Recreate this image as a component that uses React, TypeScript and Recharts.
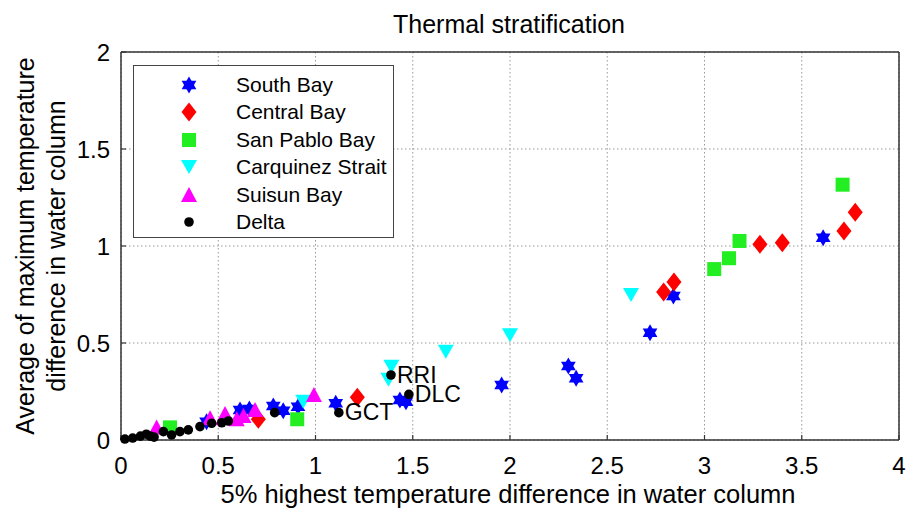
import { ScatterChart, Scatter, XAxis, YAxis, CartesianGrid, Legend } from 'recharts';

const FONT = '"Liberation Sans", Arial, Helvetica, sans-serif';

const xTicks = [0, 0.5, 1, 1.5, 2, 2.5, 3, 3.5, 4];
const yTicks = [0, 0.5, 1, 1.5, 2];

// South Bay
const southBayX = [0.44, 0.612, 0.66, 0.783, 0.834, 0.91, 1.104, 1.434, 1.465, 1.957, 2.3, 2.34, 2.72, 2.84, 3.61];
const southBayY = [0.094, 0.155, 0.16, 0.175, 0.151, 0.172, 0.189, 0.206, 0.197, 0.284, 0.381, 0.318, 0.553, 0.742, 1.043];

// Central Bay
const centralBayX = [0.706, 1.215, 2.79, 2.843, 3.285, 3.4, 3.717, 3.775];
const centralBayY = [0.107, 0.22, 0.763, 0.814, 1.009, 1.017, 1.077, 1.174];

// San Pablo Bay
const sanPabloX = [0.252, 0.906, 3.05, 3.126, 3.18, 3.71];
const sanPabloY = [0.065, 0.107, 0.881, 0.937, 1.026, 1.316];

// Carquinez Strait
const carquinezX = [0.937, 1.375, 1.39, 1.67, 2.0, 2.622];
const carquinezY = [0.197, 0.31, 0.378, 0.455, 0.54, 0.747];

// Suisun Bay
const suisunX = [0.183, 0.458, 0.535, 0.595, 0.63, 0.689, 0.992];
const suisunY = [0.065, 0.112, 0.134, 0.107, 0.124, 0.155, 0.232];

// Delta (three stations are labelled)
const deltaX = [0.02, 0.06, 0.1, 0.13, 0.15, 0.17, 0.218, 0.26, 0.303, 0.346, 0.406, 0.466, 0.518, 0.552, 0.79, 1.12, 1.388, 1.48];
const deltaY = [0.005, 0.01, 0.02, 0.03, 0.02, 0.015, 0.043, 0.026, 0.043, 0.052, 0.069, 0.086, 0.089, 0.098, 0.141, 0.141, 0.335, 0.235];
const deltaLabels = ['', '', '', '', '', '', '', '', '', '', '', '', '', '', '', 'GCT', 'RRI', 'DLC'];

type Kind = 'hexagram' | 'diamond' | 'square' | 'triangleDown' | 'triangleUp' | 'dot';

const toPoints = (xs: number[], ys: number[], labels?: string[]) =>
  xs.map((x, i) => ({ x, y: ys[i], site: labels ? labels[i] : '' }));

const series: { name: string; kind: Kind; color: string; data: { x: number; y: number; site: string }[] }[] = [
  { name: 'South Bay', kind: 'hexagram', color: '#0000ff', data: toPoints(southBayX, southBayY) },
  { name: 'Central Bay', kind: 'diamond', color: '#ff0000', data: toPoints(centralBayX, centralBayY) },
  { name: 'San Pablo Bay', kind: 'square', color: '#22ee22', data: toPoints(sanPabloX, sanPabloY) },
  { name: 'Carquinez Strait', kind: 'triangleDown', color: '#00ffff', data: toPoints(carquinezX, carquinezY) },
  { name: 'Suisun Bay', kind: 'triangleUp', color: '#ff00ff', data: toPoints(suisunX, suisunY) },
  { name: 'Delta', kind: 'dot', color: '#000000', data: toPoints(deltaX, deltaY, deltaLabels) },
];

function Marker({ kind, color, cx, cy }: { kind: Kind; color: string; cx: number; cy: number }) {
  switch (kind) {
    case 'hexagram': {
      const r = 8.5;
      const pt = (a: number) => `${cx + r * Math.cos((a * Math.PI) / 180)},${cy + r * Math.sin((a * Math.PI) / 180)}`;
      return (
        <g fill={color}>
          <polygon points={[-90, 30, 150].map(pt).join(' ')} />
          <polygon points={[90, 210, 330].map(pt).join(' ')} />
        </g>
      );
    }
    case 'diamond':
      return <polygon fill={color} points={`${cx},${cy - 9.5} ${cx + 7.5},${cy} ${cx},${cy + 9.5} ${cx - 7.5},${cy}`} />;
    case 'square':
      return <rect fill={color} x={cx - 7} y={cy - 7} width={14} height={14} />;
    case 'triangleDown':
      return <polygon fill={color} points={`${cx - 8},${cy - 7} ${cx + 8},${cy - 7} ${cx},${cy + 7}`} />;
    case 'triangleUp':
      return <polygon fill={color} points={`${cx - 8},${cy + 7} ${cx + 8},${cy + 7} ${cx},${cy - 8}`} />;
    default:
      return <circle fill={color} cx={cx} cy={cy} r={4.8} />;
  }
}

const makeShape = (kind: Kind, color: string) => (props: any) => {
  const { cx, cy, payload } = props;
  if (cx == null || cy == null) return <g />;
  return (
    <g>
      <Marker kind={kind} color={color} cx={cx} cy={cy} />
      {payload && payload.site ? (
        <text x={cx + 6} y={cy} dy="0.34em" fontSize={23} fontFamily={FONT} fill="#000">
          {payload.site}
        </text>
      ) : null}
    </g>
  );
};

const renderLegend = () => (
  <div
    style={{
      width: 261,
      height: 173,
      boxSizing: 'border-box',
      border: '1.5px solid #444',
      background: '#fff',
      paddingTop: 5,
      fontFamily: FONT,
      fontSize: 21,
      fontWeight: 400,
      color: '#000',
      whiteSpace: 'nowrap',
    }}
  >
    {series.map((s) => (
      <div key={s.name} style={{ display: 'flex', alignItems: 'center', height: 27.5 }}>
        <svg width={20} height={20} style={{ marginLeft: 45, marginRight: 37, flexShrink: 0 }}>
          <Marker kind={s.kind} color={s.color} cx={10} cy={10} />
        </svg>
        <span>{s.name}</span>
      </div>
    ))}
  </div>
);

const YTitle = () => (
  <g fontFamily={FONT} fontSize={25} fill="#000">
    <text x={25} y={246} transform="rotate(-90 25 246)" textAnchor="middle" dominantBaseline="central">
      Average of maximum temperature
    </text>
    <text x={56} y={246} transform="rotate(-90 56 246)" textAnchor="middle" dominantBaseline="central">
      difference in water column
    </text>
  </g>
);

const XTitle = () => (
  <text x={508} y={503} textAnchor="middle" fontFamily={FONT} fontSize={25.5} fill="#000">
    5% highest temperature difference in water column
  </text>
);

const Title = () => (
  <text x={509} y={33} textAnchor="middle" fontFamily={FONT} fontSize={25} fill="#000">
    Thermal stratification
  </text>
);

const axisLine = { stroke: '#333', strokeWidth: 1.5 };
const tickLine = { stroke: '#333', strokeWidth: 1.2 };
const tickStyle = { fontSize: 24, fill: '#000', fontFamily: FONT };

export default function App() {
  return (
    <div style={{ position: 'absolute', left: 0, top: 0, width: 906, height: 509, background: '#fff' }}>
      <ScatterChart width={906} height={509} margin={{ top: 51, right: 6, bottom: 0, left: 0 }}>
        <CartesianGrid stroke="#999" strokeDasharray="1.5 2.5" horizontalValues={yTicks} verticalValues={xTicks} />
        <XAxis
          dataKey="x"
          type="number"
          domain={[0, 4]}
          ticks={xTicks}
          height={69}
          axisLine={axisLine}
          tickLine={tickLine}
          tickSize={-5}
          tickMargin={22}
          tick={tickStyle}
          interval={0}
          label={<XTitle />}
        />
        <XAxis
          xAxisId="top"
          orientation="top"
          type="number"
          domain={[0, 4]}
          ticks={xTicks}
          height={1}
          axisLine={axisLine}
          tickLine={tickLine}
          tickSize={-5}
          tick={false}
          label={<Title />}
        />
        <YAxis
          dataKey="y"
          type="number"
          domain={[0, 2]}
          ticks={yTicks}
          width={121}
          axisLine={axisLine}
          tickLine={tickLine}
          tickSize={-5}
          tickMargin={16}
          tick={tickStyle}
          interval={0}
          label={<YTitle />}
        />
        <YAxis
          yAxisId="right"
          orientation="right"
          type="number"
          domain={[0, 2]}
          ticks={yTicks}
          width={1}
          axisLine={axisLine}
          tickLine={tickLine}
          tickSize={-5}
          tick={false}
        />
        {series.map((s) => (
          <Scatter
            key={s.name}
            name={s.name}
            data={s.data}
            fill={s.color}
            shape={makeShape(s.kind, s.color)}
            isAnimationActive={false}
          />
        ))}
        <Legend
          layout="vertical"
          align="center"
          verticalAlign="middle"
          content={renderLegend}
          wrapperStyle={{ left: 133, top: 65, width: 261, height: 173 }}
        />
      </ScatterChart>
    </div>
  );
}
